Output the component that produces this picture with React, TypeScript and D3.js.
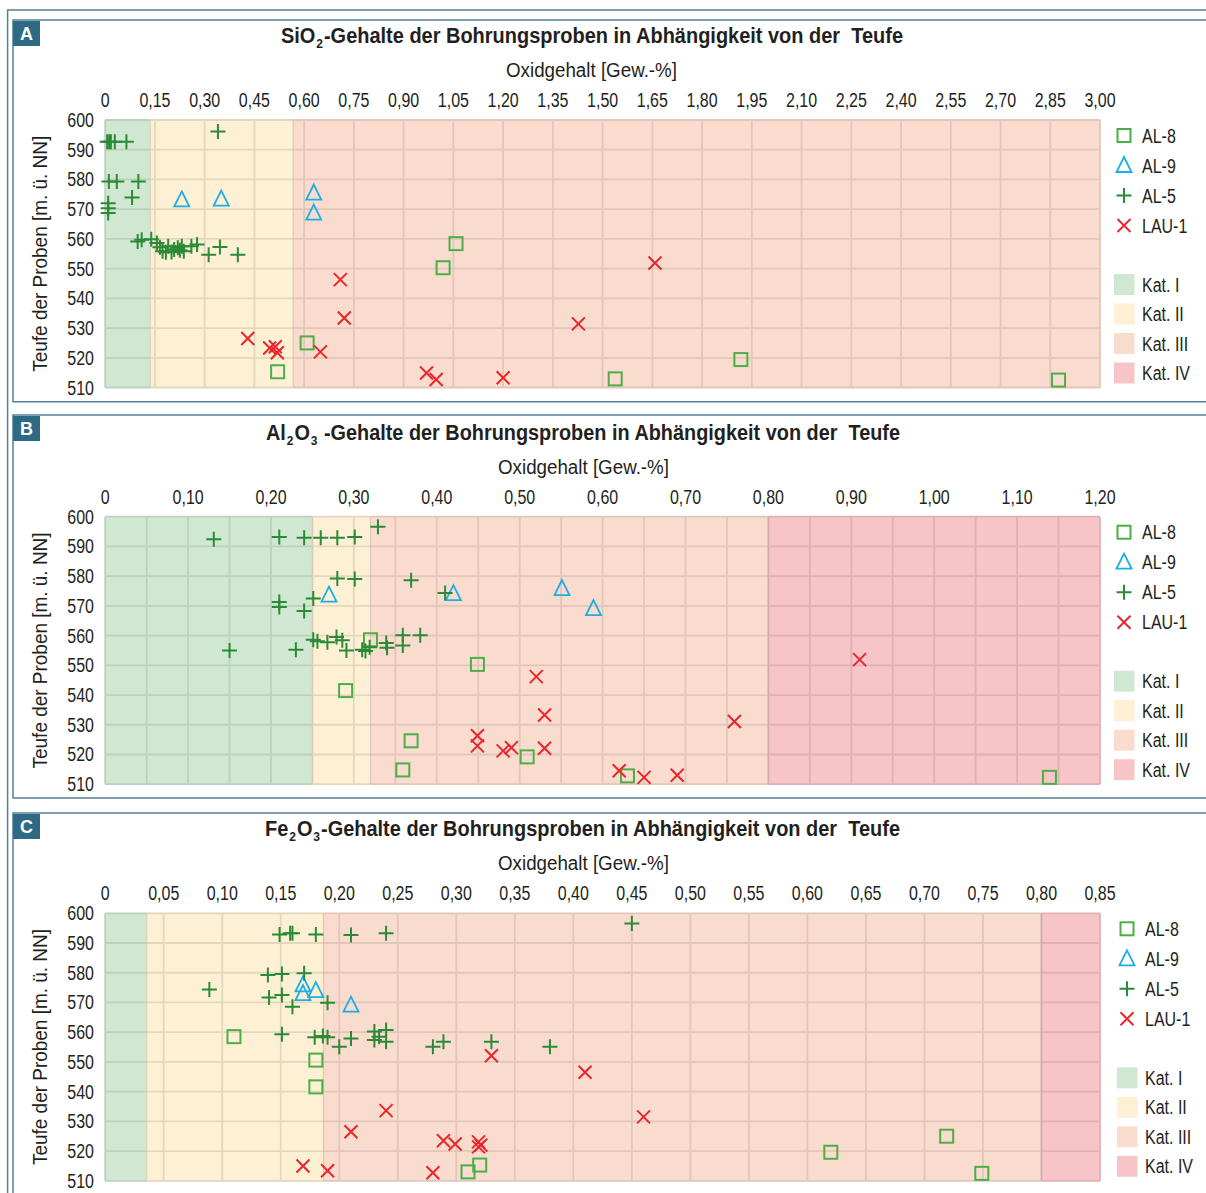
import React from 'react';
import * as d3 from 'd3';

const FONT = "'Liberation Sans',Arial,sans-serif";
const SX = 0.82;
const TXT = '#231f20';
const FRAME = '#4f8199';
const LABELBOX = '#2f6a85';

// ---------- data ----------
const depthTicks = [510, 520, 530, 540, 550, 560, 570, 580, 590, 600];

const ticksA = [0, 0.15, 0.3, 0.45, 0.6, 0.75, 0.9, 1.05, 1.2, 1.35, 1.5, 1.65, 1.8, 1.95, 2.1, 2.25, 2.4, 2.55, 2.7, 2.85, 3.0];
const ticksB = [0, 0.1, 0.2, 0.3, 0.4, 0.5, 0.6, 0.7, 0.8, 0.9, 1.0, 1.1, 1.2];
const gridB = [0, 0.05, 0.1, 0.15, 0.2, 0.25, 0.3, 0.35, 0.4, 0.45, 0.5, 0.55, 0.6, 0.65, 0.7, 0.75, 0.8, 0.85, 0.9, 0.95, 1.0, 1.05, 1.1, 1.15, 1.2];
const ticksC = [0, 0.05, 0.1, 0.15, 0.2, 0.25, 0.3, 0.35, 0.4, 0.45, 0.5, 0.55, 0.6, 0.65, 0.7, 0.75, 0.8, 0.85];

// category boundaries (Kat. I..IV)
const katA = [0, 0.136, 0.567, 3.0, 3.0];
const katB = [0, 0.25, 0.32, 0.80, 1.2];
const katC = [0, 0.0355, 0.1865, 0.80, 0.85];

const katNames = ['Kat. I', 'Kat. II', 'Kat. III', 'Kat. IV'];
const katColors = ['#d0e8d2', '#fdf0d4', '#fadccf', '#f7c5c7'];
const seriesNames = ['AL-8', 'AL-9', 'AL-5', 'LAU-1'];

// SiO2
const sio2_AL8 = [[1.058, 558.4], [1.019, 550.3], [0.609, 525.0], [0.520, 515.3], [1.538, 512.9], [1.917, 519.4], [2.875, 512.5]];
const sio2_AL9 = [[0.231, 573.1], [0.350, 573.4], [0.629, 575.4], [0.629, 568.7]];
const sio2_AL5 = [[0.340, 596.1], [0.006, 592.7], [0.012, 592.7], [0.017, 592.7], [0.029, 592.7], [0.064, 592.7],
  [0.011, 579.3], [0.035, 579.3], [0.100, 579.3], [0.081, 573.9], [0.009, 572.0], [0.009, 570.3], [0.009, 568.7],
  [0.098, 559.1], [0.110, 559.7], [0.139, 559.9], [0.156, 558.6], [0.165, 557.2], [0.173, 555.8], [0.183, 555.5],
  [0.190, 557.5], [0.200, 555.6], [0.208, 556.4], [0.219, 557.0], [0.225, 556.2], [0.231, 557.5], [0.237, 555.8],
  [0.260, 557.5], [0.277, 558.1], [0.312, 554.7], [0.346, 557.3], [0.400, 554.7]];
const sio2_LAU1 = [[0.709, 546.3], [0.721, 533.4], [0.430, 526.5], [0.496, 523.3], [0.513, 523.7], [0.519, 521.7],
  [0.649, 522.0], [0.969, 514.9], [0.998, 512.7], [1.200, 513.3], [1.427, 531.4], [1.658, 551.9]];

// Al2O3
const al_AL8 = [[0.320, 558.6], [0.449, 550.3], [0.290, 541.5], [0.369, 524.6], [0.359, 514.8], [0.509, 519.2], [0.630, 512.8], [1.139, 512.3]];
const al_AL9 = [[0.270, 573.6], [0.420, 574.1], [0.551, 575.8], [0.589, 569.1]];
const al_AL5 = [[0.329, 596.6], [0.131, 592.4], [0.210, 593.2], [0.240, 592.9], [0.260, 592.9], [0.280, 592.9], [0.301, 593.2],
  [0.280, 579.2], [0.301, 579.0], [0.369, 578.6], [0.410, 574.3], [0.210, 571.3], [0.210, 569.6], [0.251, 572.5], [0.240, 568.3],
  [0.150, 555.0], [0.230, 555.2], [0.251, 558.6], [0.256, 558.1], [0.268, 557.8], [0.279, 559.5], [0.286, 558.4], [0.291, 555.0],
  [0.310, 555.2], [0.314, 554.8], [0.319, 556.1], [0.339, 557.5], [0.340, 555.9], [0.359, 560.1], [0.359, 556.7], [0.380, 560.1]];
const al_LAU1 = [[0.520, 546.2], [0.530, 533.3], [0.449, 526.3], [0.449, 522.9], [0.480, 521.2], [0.490, 522.3], [0.530, 522.1],
  [0.910, 551.9], [0.759, 531.1], [0.620, 514.5], [0.650, 512.3], [0.690, 513.0]];

// Fe2O3
const fe_AL8 = [[0.110, 558.5], [0.180, 550.6], [0.180, 541.6], [0.320, 515.3], [0.310, 513.0], [0.620, 519.6], [0.719, 525.0], [0.749, 512.5]];
const fe_AL9 = [[0.169, 575.9], [0.169, 573.0], [0.180, 574.0], [0.210, 569.1]];
const fe_AL5 = [[0.149, 592.9], [0.158, 593.3], [0.160, 593.3], [0.180, 592.9], [0.210, 592.7], [0.240, 593.3],
  [0.139, 579.2], [0.151, 579.6], [0.170, 579.8], [0.089, 574.4], [0.140, 571.7], [0.151, 572.5], [0.160, 568.6], [0.190, 569.9],
  [0.151, 559.3], [0.179, 558.3], [0.186, 558.7], [0.190, 558.3], [0.200, 555.1], [0.210, 557.9], [0.230, 560.2], [0.230, 557.4],
  [0.240, 560.7], [0.240, 556.8], [0.234, 558.5], [0.280, 555.1], [0.289, 556.8], [0.330, 556.8], [0.380, 555.1], [0.450, 596.6]];
const fe_LAU1 = [[0.330, 552.1], [0.410, 546.5], [0.240, 533.6], [0.210, 526.5], [0.289, 523.5], [0.299, 522.4], [0.319, 523.1],
  [0.321, 522.0], [0.319, 521.4], [0.169, 515.0], [0.190, 513.4], [0.280, 512.7], [0.460, 531.5]];

// ---------- layout ----------
const PX0 = 105.2, PX1 = 1100;
const PLOT_TOP = 120, PLOT_H = 267.5;
const COLORS = { sq: '#4dae47', tri: '#1aaee6', plus: '#2b8a36', x: '#e8262b' };

type Pt = number[];
interface Cfg {
  key: string; dy: number; max: number; ticks: number[]; grid: number[]; kat: number[];
  sym: string[]; titleX0: number; titleLen: number; oxX0: number;
  data: Pt[][]; legX: number; frameTop: number; frameBottom: number; letter: string;
}

const fmt = (v: number) => (v === 0 ? '0' : d3.format('.2f')(v).replace('.', ','));

function T({ x, y, anchor = 'start', size = 19.5, children }: any) {
  return (
    <text transform={`translate(${x},${y}) scale(${SX},1)`} textAnchor={anchor} fontSize={size} fontFamily={FONT} fill={TXT}>{children}</text>
  );
}

function Marker({ type, cx, cy }: { type: number; cx: number; cy: number }) {
  if (type === 0) return <rect x={cx - 6.5} y={cy - 6.5} width={13} height={13} fill="none" stroke={COLORS.sq} strokeWidth={2} />;
  if (type === 1) return <path d={`M${cx},${cy - 8.5}L${cx + 7.5},${cy + 6.5}L${cx - 7.5},${cy + 6.5}Z`} fill="none" stroke={COLORS.tri} strokeWidth={1.8} />;
  if (type === 2) return <path d={`M${cx - 7.5},${cy}H${cx + 7.5}M${cx},${cy - 7.5}V${cy + 7.5}`} stroke={COLORS.plus} strokeWidth={2} fill="none" />;
  return <path d={`M${cx - 6.5},${cy - 6.5}L${cx + 6.5},${cy + 6.5}M${cx - 6.5},${cy + 6.5}L${cx + 6.5},${cy - 6.5}`} stroke={COLORS.x} strokeWidth={2} fill="none" />;
}

function Panel({ c }: { c: Cfg }) {
  const top = PLOT_TOP + c.dy;
  const x = d3.scaleLinear().domain([0, c.max]).range([PX0, PX1]);
  const y = d3.scaleLinear().domain([510, 600]).range([top + PLOT_H, top]);
  const bands = [0, 1, 2, 3].map(i => ({ i, x0: c.kat[i], x1: c.kat[i + 1] })).filter(b => b.x1 > b.x0);
  const gridCol = (i: number) => d3.color(katColors[i])!.darker(0.3).formatHex();
  const bandOf = (v: number) => {
    let idx = 0;
    bands.forEach(b => { if (v >= b.x0 - 1e-9) idx = b.i; });
    return idx;
  };
  const midY = top + PLOT_H / 2;
  const s = c.sym;
  return (
    <g>
      <path d={`M1210,${c.frameTop}H13V${c.frameBottom}H1210`} fill="none" stroke={FRAME} strokeWidth={1.5} />
      <rect x={13} y={c.frameTop + 1} width={27} height={25} fill={LABELBOX} />
      <text x={26.5} y={c.frameTop + 20} textAnchor="middle" fill="#fff" fontWeight="bold" fontSize={18} fontFamily={FONT}>{c.letter}</text>
      {/* title */}
      <text x={c.titleX0} y={c.dy + 43} fontWeight="bold" fontSize={21.5} fontFamily={FONT} fill={TXT}
        textLength={c.titleLen} lengthAdjust="spacingAndGlyphs" style={{ whiteSpace: 'pre' }}>
        <tspan>{s[0]}</tspan>
        <tspan fontSize={13} dx={1} dy={5}>{s[1]}</tspan>
        {s.length > 3 ? <tspan dx={1} dy={-5}>{s[2]}</tspan> : null}
        {s.length > 3 ? <tspan fontSize={13} dx={1} dy={5}>{s[3]}</tspan> : null}
        <tspan dx={1} dy={-5}>{s[s.length - 1]}</tspan>
      </text>
      <text x={c.oxX0} y={c.dy + 77} fontSize={19.5} fontFamily={FONT} fill={TXT} textLength={171} lengthAdjust="spacingAndGlyphs">Oxidgehalt [Gew.-%]</text>
      {/* bands */}
      {bands.map(b => (
        <rect key={b.i} x={x(b.x0)} y={top} width={x(b.x1) - x(b.x0)} height={PLOT_H} fill={katColors[b.i]} />
      ))}
      {depthTicks.map(d => bands.map(b => (
        <line key={`h${d}-${b.i}`} x1={x(b.x0)} x2={x(b.x1)} y1={y(d)} y2={y(d)} stroke={gridCol(b.i)} strokeWidth={1.8} />
      )))}
      {c.grid.map(v => (
        <line key={`v${v}`} x1={x(v)} x2={x(v)} y1={top} y2={top + PLOT_H} stroke={gridCol(bandOf(v))} strokeWidth={1.8} />
      ))}
      {bands.slice(1).map(b => (
        <line key={`bb${b.i}`} x1={x(b.x0)} x2={x(b.x0)} y1={top} y2={top + PLOT_H} stroke={d3.color(katColors[b.i])!.darker(0.5).formatHex()} strokeWidth={1.2} opacity={0.7} />
      ))}
      {c.ticks.map(v => (
        <T key={`t${v}`} x={x(v)} y={c.dy + 107} anchor="middle">{fmt(v)}</T>
      ))}
      {depthTicks.map(d => (
        <T key={`y${d}`} x={94} y={y(d) + 7} anchor="end">{d}</T>
      ))}
      <text transform={`translate(47,${midY}) rotate(-90)`} x={-118} y={0} fontSize={19.5} fontFamily={FONT} fill={TXT}
        textLength={236} lengthAdjust="spacingAndGlyphs">Teufe der Proben [m. ü. NN]</text>
      {c.data.map((ser, si) => (
        <g key={`s${si}`}>
          {ser.map((p, i) => <Marker key={i} type={si} cx={x(p[0])} cy={y(p[1])} />)}
        </g>
      ))}
      {seriesNames.map((n, i) => {
        const ly = c.dy + 135.5 + i * 30;
        return (
          <g key={`l${n}`}>
            <Marker type={i} cx={c.legX} cy={ly} />
            <T x={c.legX + 18} y={ly + 7}>{n}</T>
          </g>
        );
      })}
      {katNames.map((n, i) => {
        const ly = c.dy + 284.5 + i * 29.5;
        return (
          <g key={`k${n}`}>
            <rect x={c.legX - 10} y={ly - 10.5} width={20.5} height={21} fill={katColors[i]} />
            <T x={c.legX + 18} y={ly + 7}>{n}</T>
          </g>
        );
      })}
    </g>
  );
}

const TITLE_REST = '-Gehalte der Bohrungsproben in Abhängigkeit von der  Teufe';

const panels: Cfg[] = [
  { key: 'A', letter: 'A', dy: 0, max: 3.0, ticks: ticksA, grid: ticksA, kat: katA, sym: ['SiO', '2', TITLE_REST],
    titleX0: 281, titleLen: 622, oxX0: 506,
    data: [sio2_AL8, sio2_AL9, sio2_AL5, sio2_LAU1], legX: 1124, frameTop: 20, frameBottom: 401.7 },
  { key: 'B', letter: 'B', dy: 396.7, max: 1.2, ticks: ticksB, grid: gridB, kat: katB, sym: ['Al', '2', 'O', '3', ' ' + TITLE_REST],
    titleX0: 266, titleLen: 634, oxX0: 498,
    data: [al_AL8, al_AL9, al_AL5, al_LAU1], legX: 1124, frameTop: 415, frameBottom: 798 },
  { key: 'C', letter: 'C', dy: 793.3, max: 0.85, ticks: ticksC, grid: ticksC, kat: katC, sym: ['Fe', '2', 'O', '3', TITLE_REST],
    titleX0: 265, titleLen: 635, oxX0: 498,
    data: [fe_AL8, fe_AL9, fe_AL5, fe_LAU1], legX: 1127, frameTop: 813, frameBottom: 1300 },
];

export default function App() {
  return (
    <svg width={1206} height={1193} viewBox="0 0 1206 1193" style={{ position: 'absolute', left: 0, top: 0, background: '#fff' }}>
      <rect x={0} y={0} width={1206} height={1193} fill="#fff" />
      <path d={`M1210,10H7.6V1300`} fill="none" stroke={FRAME} strokeWidth={1.5} />
      {panels.map(p => <Panel key={p.key} c={p} />)}
    </svg>
  );
}
